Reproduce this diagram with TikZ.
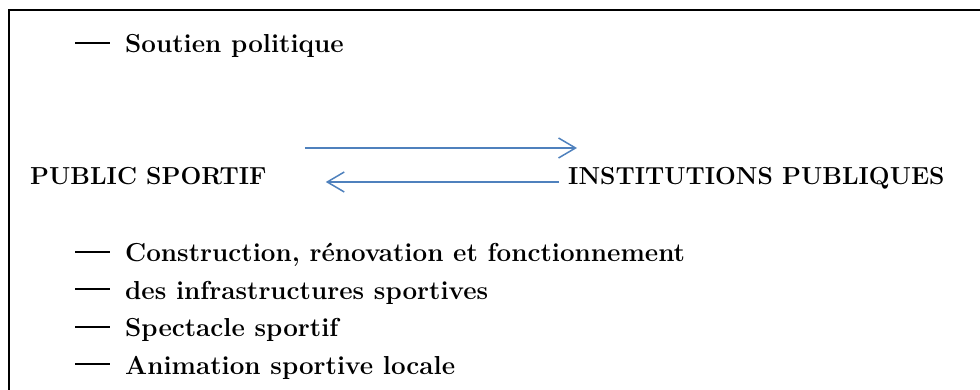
\documentclass[tikz,border=0pt]{standalone}
\usepackage{tikz}
\usetikzlibrary{positioning, arrows.meta}

\definecolor{bleuflux}{RGB}{79,129,189}
\newcommand{\tiret}{\rule[9pt]{35pt}{2pt}\hspace{15pt}}

\begin{document}
\begin{tikzpicture}[x=1pt, y=1pt, font=\fontsize{26}{30}\selectfont\bfseries,
    txt/.style={inner sep=0pt, anchor=base west},
    acteur/.style={txt, font=\fontsize{24.6}{28}\selectfont\bfseries},
    flux/.style={draw=bleuflux, line width=1.5pt, -{Straight Barb[length=17pt, width=20pt]}}]
        \useasboundingbox (0,0) rectangle (980,390);
        % cadre coupe a droite et en bas
        \draw[line width=2pt] (980,380) -- (9,380) -- (9,-2);
        \node[txt] (soutien) at (75,337) {\tiret Soutien politique};
        \node[acteur] (pub) at (30,205) {PUBLIC SPORTIF};
        \node[acteur] (inst) at (568,205) {INSTITUTIONS PUBLIQUES};
        \draw[flux] ([shift={(38,37)}]pub.base east) -- ([shift={(9,37)}]inst.base west);
        \draw[flux] ([shift={(-9,3)}]inst.base west) -- ([shift={(59,3)}]pub.base east);
        \foreach \t [count=\i] in {{Construction, rénovation et fonctionnement},
                                   des infrastructures sportives,
                                   Spectacle sportif,
                                   Animation sportive locale}
            \node[txt] (ligne\i) at (75,128-37.5*\i+37.5) {\tiret \t};
      \end{tikzpicture}
\end{document}
